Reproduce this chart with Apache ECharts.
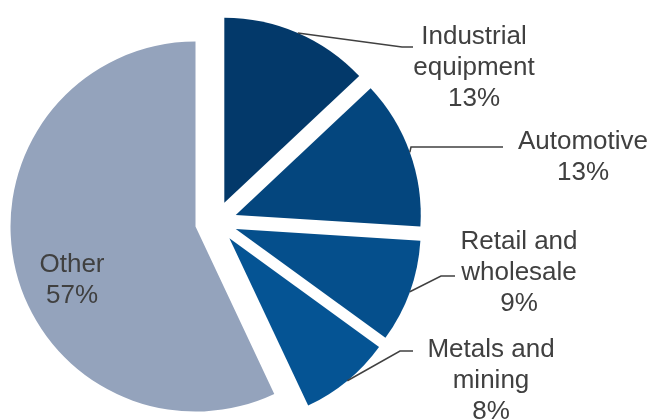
<!DOCTYPE html>
<html>
<head>
<meta charset="utf-8">
<script src="https://cdn.jsdelivr.net/npm/echarts@6/dist/echarts.min.js"></script>
<style>
  html, body { margin: 0; padding: 0; background: #ffffff; }
  #chart { width: 650px; height: 419px; }
</style>
</head>
<body>
<div id="chart"></div>
<script>
// Sector shares (%)
const categories = ['Industrial\nequipment', 'Automotive', 'Retail and\nwholesale', 'Metals and\nmining', 'Other'];
const shares = [13, 13, 9, 8, 57];
const sliceColors = ['#03396A', '#04467E', '#054F8C', '#055494', '#94A3BC'];

const PIE_CENTER = [216, 222];
const PIE_RADIUS = 185;
const EXPLODE = 21;
const TEXT_COLOR = '#404040';

// Label block centres; `end` is where the leader line meets the label, `bend` the length of its last flat run
const labelPlacement = [
  { x: 474, y: 68,  end: [413, 47],  bend: 11 },
  { x: 583, y: 157, end: [503, 147], bend: 92 },
  { x: 519, y: 273, end: [455, 276], bend: 14 },
  { x: 491, y: 381, end: [413, 351], bend: 13 },
  { x: 72,  y: 280, end: null,       bend: 0 }
];

const total = shares.reduce((a, b) => a + b, 0);
// Mid angle of every slice, in screen radians (clockwise from 12 o'clock)
const midAngles = [];
(function () {
  let acc = 0;
  shares.forEach(v => {
    midAngles.push(-Math.PI / 2 + 2 * Math.PI * (acc + v / 2) / total);
    acc += v;
  });
})();

const pieBase = {
  type: 'pie',
  center: PIE_CENTER,
  radius: [0, PIE_RADIUS],
  startAngle: 90,
  clockwise: true,
  avoidLabelOverlap: false,
  emphasis: { disabled: true },
  silent: true
};

const chart = echarts.init(document.getElementById('chart'), null, { renderer: 'canvas' });

chart.setOption({
  backgroundColor: '#ffffff',
  animation: false,
  series: [
    // exploded slices
    Object.assign({}, pieBase, {
      selectedMode: 'multiple',
      selectedOffset: EXPLODE,
      select: { itemStyle: { borderWidth: 0 } },
      itemStyle: { borderWidth: 0 },
      label: { show: false },
      labelLine: { show: false },
      data: shares.map((v, i) => ({
        name: categories[i],
        value: v,
        selected: true,
        itemStyle: { color: sliceColors[i] }
      }))
    }),
    // category labels with leader lines, laid over the same pie geometry
    Object.assign({}, pieBase, {
      z: 3,
      itemStyle: { color: 'rgba(0,0,0,0)', borderWidth: 0 },
      label: {
        show: true,
        position: 'outside',
        color: TEXT_COLOR,
        fontFamily: '"Liberation Sans", Arial, sans-serif',
        fontSize: 26,
        lineHeight: 31,
        formatter: p => p.name + '\n' + p.value + '%'
      },
      labelLine: {
        show: true,
        length: 10,
        length2: 10,
        lineStyle: { color: TEXT_COLOR, width: 1.5 }
      },
      labelLayout: function (params) {
        const i = params.dataIndex;
        const place = labelPlacement[i];
        const out = { x: place.x, y: place.y, align: 'center', verticalAlign: 'middle' };
        if (place.end && params.labelLinePoints) {
          // leader starts on the exploded slice's rim, at its mid angle
          const start = params.labelLinePoints[0];
          const dx = Math.cos(midAngles[i]) * EXPLODE;
          const dy = Math.sin(midAngles[i]) * EXPLODE;
          out.labelLinePoints = [
            [start[0] + dx, start[1] + dy],
            [place.end[0] - place.bend, place.end[1]],
            [place.end[0], place.end[1]]
          ];
        }
        return out;
      },
      data: shares.map((v, i) => ({
        name: categories[i],
        value: v,
        labelLine: { show: i !== 4 }
      }))
    })
  ]
});
</script>
</body>
</html>
